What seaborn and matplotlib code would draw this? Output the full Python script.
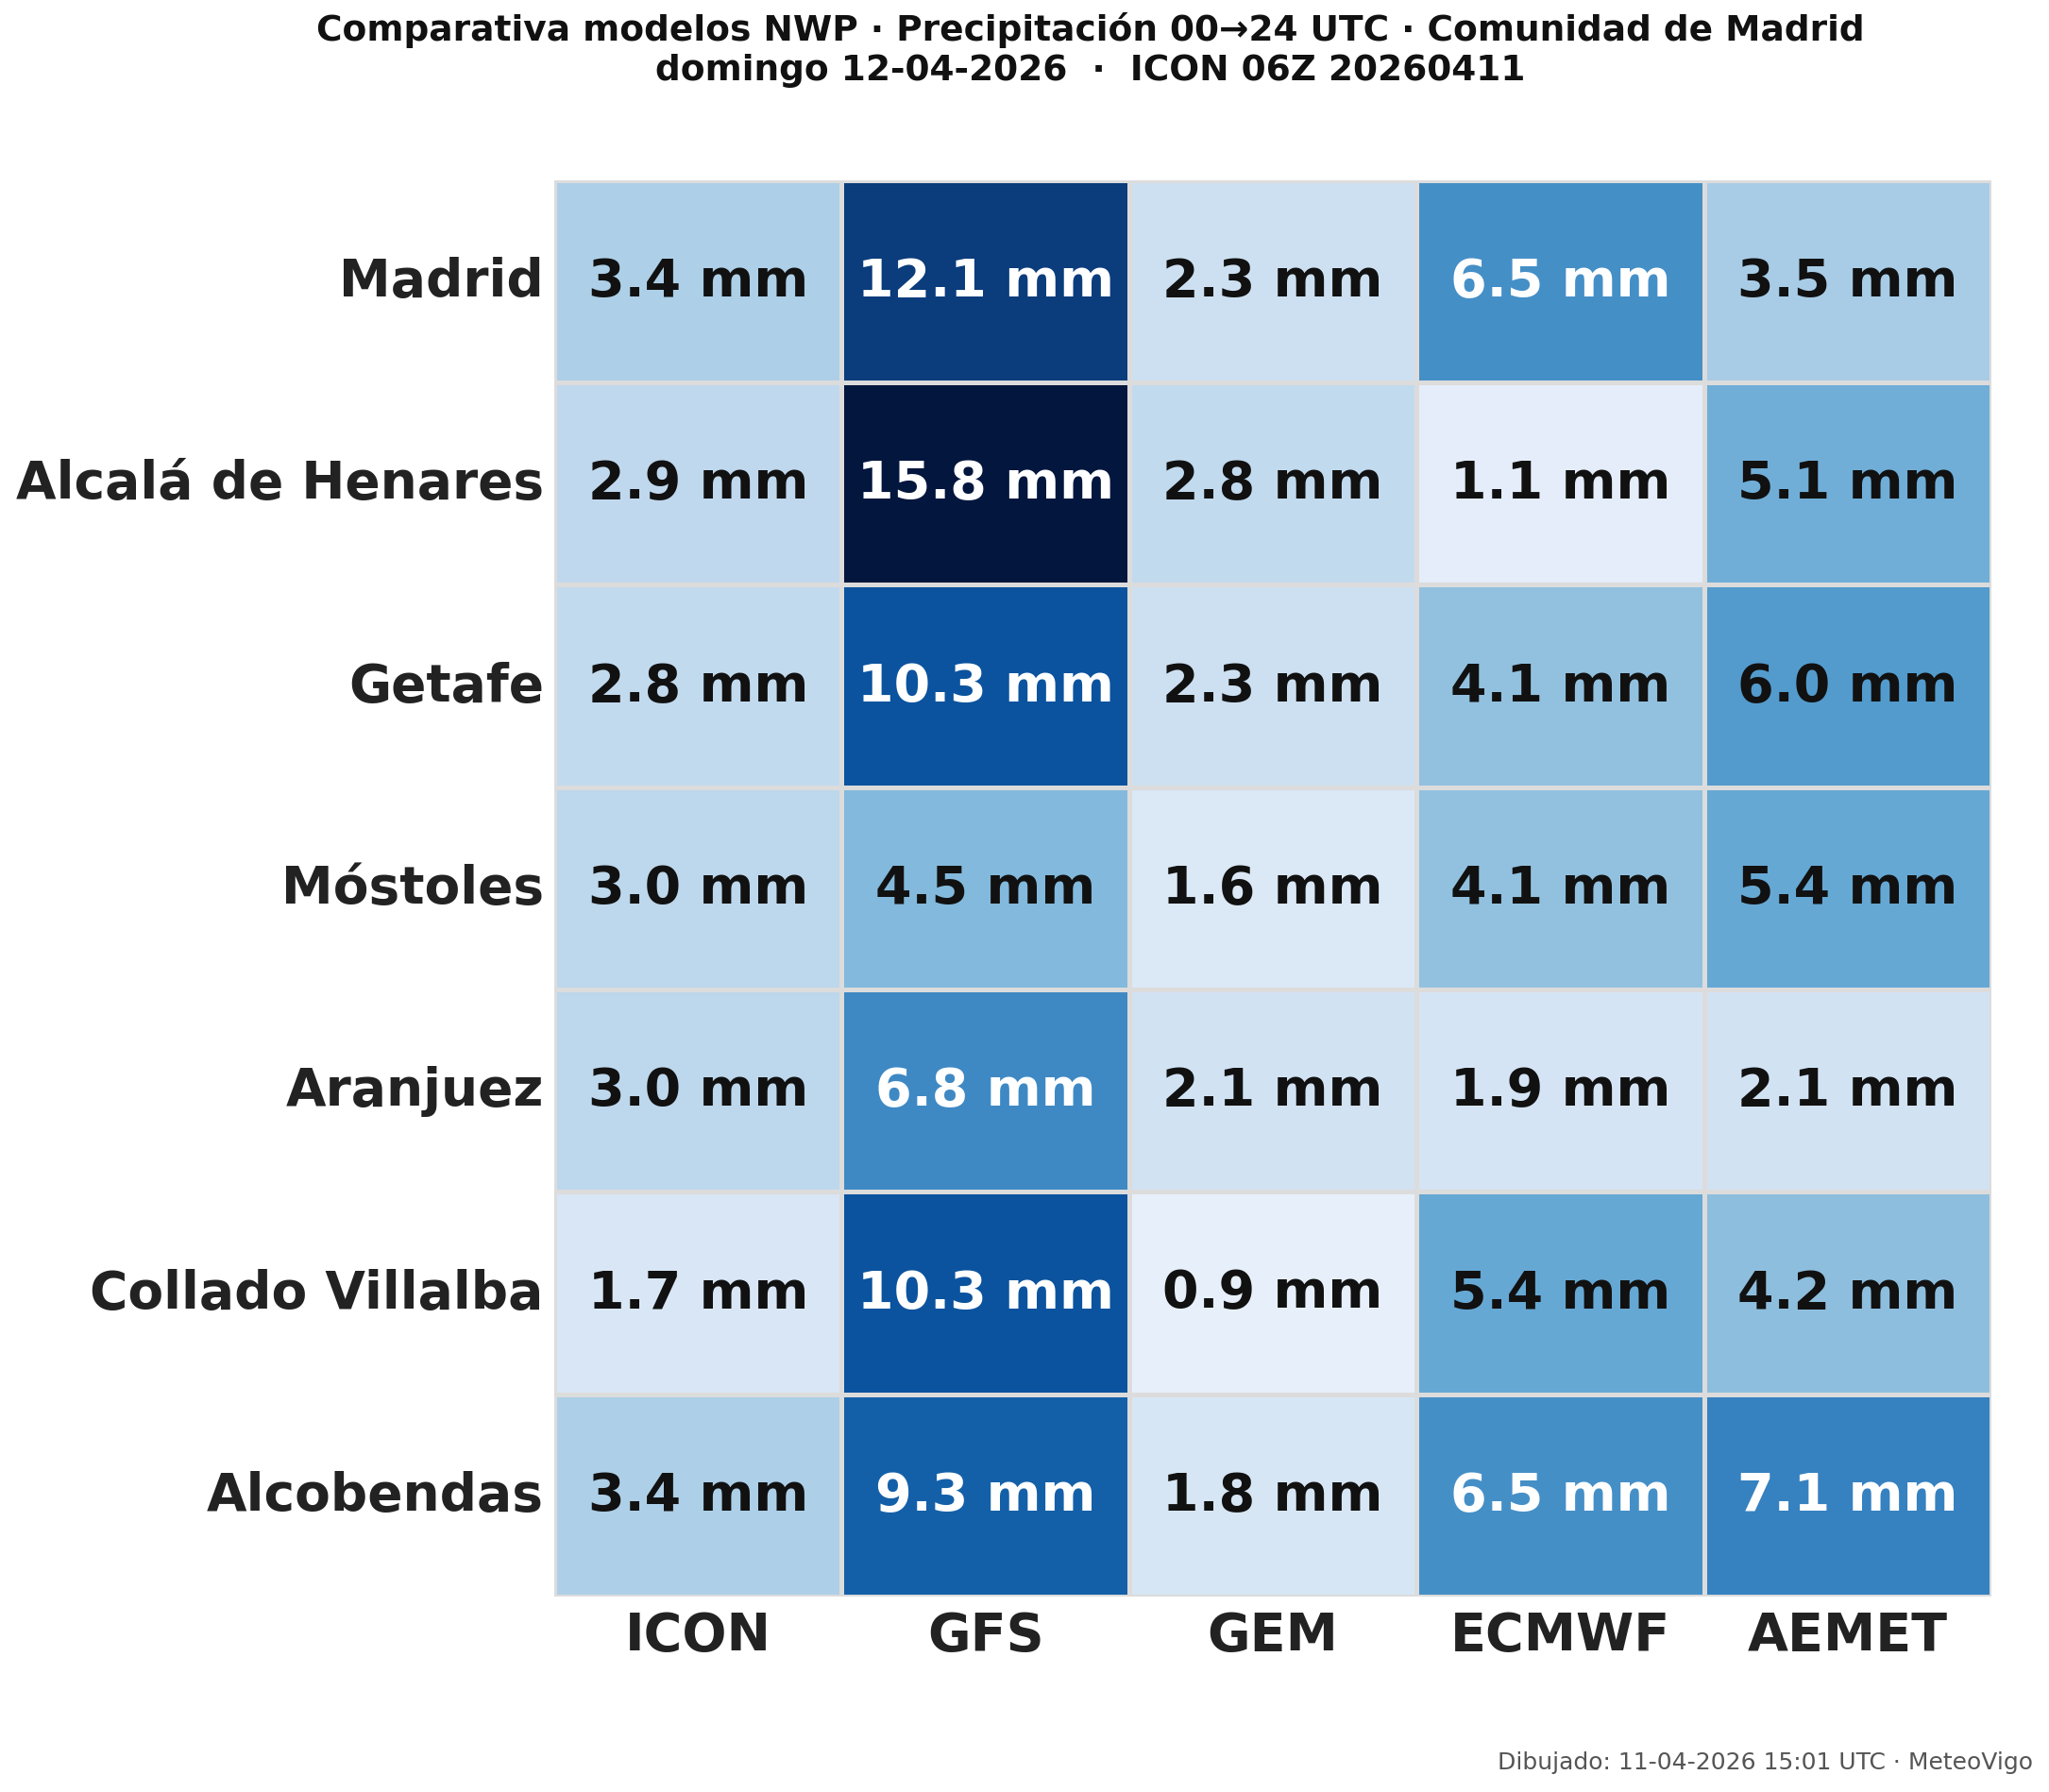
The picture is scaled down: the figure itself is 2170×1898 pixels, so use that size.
import numpy as np
import pandas as pd
import matplotlib
matplotlib.use("Agg")
import matplotlib.pyplot as plt
from matplotlib.colors import LinearSegmentedColormap
import seaborn as sns

# Precipitation totals (mm), 00→24 UTC
towns = ["Madrid", "Alcalá de Henares", "Getafe", "Móstoles", "Aranjuez",
         "Collado Villalba", "Alcobendas"]
models = ["ICON", "GFS", "GEM", "ECMWF", "AEMET"]
icon = [3.4, 2.9, 2.8, 3.0, 3.0, 1.7, 3.4]
gfs = [12.1, 15.8, 10.3, 4.5, 6.8, 10.3, 9.3]
gem = [2.3, 2.8, 2.3, 1.6, 2.1, 0.9, 1.8]
ecmwf = [6.5, 1.1, 4.1, 4.1, 1.9, 5.4, 6.5]
aemet = [3.5, 5.1, 6.0, 5.4, 2.1, 4.2, 7.1]

df = pd.DataFrame({"ICON": icon, "GFS": gfs, "GEM": gem,
                   "ECMWF": ecmwf, "AEMET": aemet}, index=towns)[models]
labels = df.map(lambda v: f"{v:.1f} mm")

VMAX = 16.0
nodes = [(0.0, "#f7fbff"), (1.0, "#e5eef9"), (2.0, "#d3e3f3"), (3.0, "#bdd7ec"),
         (4.0, "#95c2e0"), (5.0, "#72b0d8"), (6.0, "#549ccd"), (7.0, "#3883c1"),
         (8.0, "#2570b3"), (9.0, "#1764ab"), (10.3, "#0b539e"), (12.1, "#0b3c7c"),
         (16.0, "#03143a")]
cmap = LinearSegmentedColormap.from_list("precip", [(v / VMAX, c) for v, c in nodes])

sns.set_style("white")
plt.rcParams["font.family"] = ["DejaVu Sans"]

fig = plt.figure(figsize=(10.85, 9.495), dpi=200)
ax = fig.add_axes([0.2705, 0.109, 0.7015, 0.790])

sns.heatmap(df, ax=ax, cmap=cmap, vmin=0, vmax=VMAX, annot=labels, fmt="",
            cbar=False, linewidths=1.1, linecolor="#dcdcdc",
            annot_kws={"fontsize": 20, "fontweight": "bold"})

for txt, v in zip(ax.texts, df.values.ravel()):
    txt.set_color("white" if v >= 6.2 else "#111111")

ax.tick_params(axis="both", length=0)
ax.set_xlabel("")
ax.set_ylabel("")
ax.set_xticklabels(models, fontsize=20, fontweight="bold", color="#222222")
ax.set_yticklabels(towns, fontsize=19.8, fontweight="bold", color="#222222",
                   rotation=0)
ax.tick_params(axis="x", pad=5)
ax.tick_params(axis="y", pad=4)

fig.text(0.532, 0.993,
         "Comparativa modelos NWP · Precipitación 00→24 UTC · Comunidad de Madrid\n"
         "domingo 12-04-2026  ·  ICON 06Z 20260411",
         ha="center", va="top", fontsize=13.5, fontweight="bold",
         color="#111111", linespacing=1.2)
fig.text(0.992, 0.017, "Dibujado: 11-04-2026 15:01 UTC · MeteoVigo",
         ha="right", va="center", fontsize=9, color="#555555")

fig.savefig("out.png", dpi=200)
